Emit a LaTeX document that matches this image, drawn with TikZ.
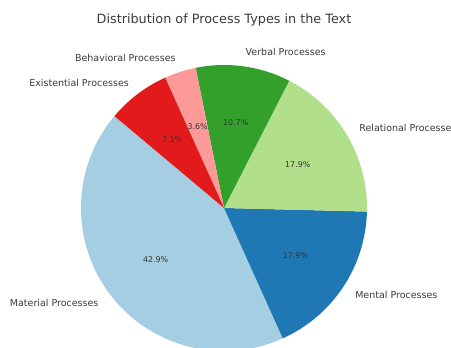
\documentclass[tikz,border=0pt]{standalone}
\usepackage{fontspec}
\setmainfont{DejaVu Sans}
\usetikzlibrary{calc}

% colours of the slices
\definecolor{pairedLightBlue}{HTML}{A6CEE3}
\definecolor{pairedBlue}{HTML}{1F78B4}
\definecolor{pairedLightGreen}{HTML}{B2DF8A}
\definecolor{pairedGreen}{HTML}{33A02C}
\definecolor{pairedPink}{HTML}{FB9A99}
\definecolor{pairedRed}{HTML}{E31A1C}
\definecolor{labelGray}{HTML}{3A3A3A}

\tikzset{
	procLabel/.style={font=\fontsize{9.5}{11}\selectfont, text=labelGray, inner sep=0pt},
	pctLabel/.style={font=\fontsize{7.9}{9}\selectfont, text=labelGray!90!black, inner sep=0pt, anchor=center},
}

\begin{document}
\begin{tikzpicture}[x=1pt, y=1pt]

	% page size of the reference
	\useasboundingbox (0,0) rectangle (451,348);
	\clip (0,0) rectangle (451,348);

	% radius of the pie to rescale if needed
	\def\r{143}
	% centre of the pie
	\coordinate (pc) at (224,140);

	%macro to draw one slice from angle #1 to angle #2
	\newcommand{\procSlice}[3]{
		\fill[#3] (pc) -- ($(pc)+(#1:\r)$) arc[start angle=#1, end angle=#2, radius=\r] -- cycle;
	}

	% slices, counterclockwise from 140 degrees
	\procSlice{140}{294.29}{pairedLightBlue}
	\procSlice{294.29}{358.57}{pairedBlue}
	\procSlice{358.57}{422.86}{pairedLightGreen}
	\procSlice{62.86}{101.43}{pairedGreen}
	\procSlice{101.43}{114.29}{pairedPink}
	\procSlice{114.29}{140}{pairedRed}

	% names of the process types at 1.1 times the radius
	\node[procLabel, anchor=east] (material) at ($(pc)+(217.14:1.1*\r)$) {Material Processes};
	\node[procLabel, anchor=west] (mental) at ($(pc)+(326.43:1.1*\r)$) {Mental Processes};
	\node[procLabel, anchor=west] (relational) at ($(pc)+(30.71:1.1*\r)$) {Relational Processes};
	\node[procLabel, anchor=west] (verbal) at ($(pc)+(82.14:1.1*\r)$) {Verbal Processes};
	\node[procLabel, anchor=east] (behavioral) at ($(pc)+(107.86:1.1*\r)$) {Behavioral Processes};
	\node[procLabel, anchor=east] (existential) at ($(pc)+(127.14:1.1*\r)$) {Existential Processes};

	% percentages at 0.6 times the radius
	\node[pctLabel] (materialPct) at ($(pc)+(217.14:0.6*\r)$) {42.9\%};
	\node[pctLabel] (mentalPct) at ($(pc)+(326.43:0.6*\r)$) {17.9\%};
	\node[pctLabel] (relationalPct) at ($(pc)+(30.71:0.6*\r)$) {17.9\%};
	\node[pctLabel] (verbalPct) at ($(pc)+(82.14:0.6*\r)$) {10.7\%};
	\node[pctLabel] (behavioralPct) at ($(pc)+(107.86:0.6*\r)$) {3.6\%};
	\node[pctLabel] (existentialPct) at ($(pc)+(127.14:0.6*\r)$) {7.1\%};

	% title
	\node[font=\fontsize{12.8}{15}\selectfont, text=labelGray, inner sep=0pt] (title) at (224,328) {Distribution of Process Types in the Text};

\end{tikzpicture}
\end{document}
